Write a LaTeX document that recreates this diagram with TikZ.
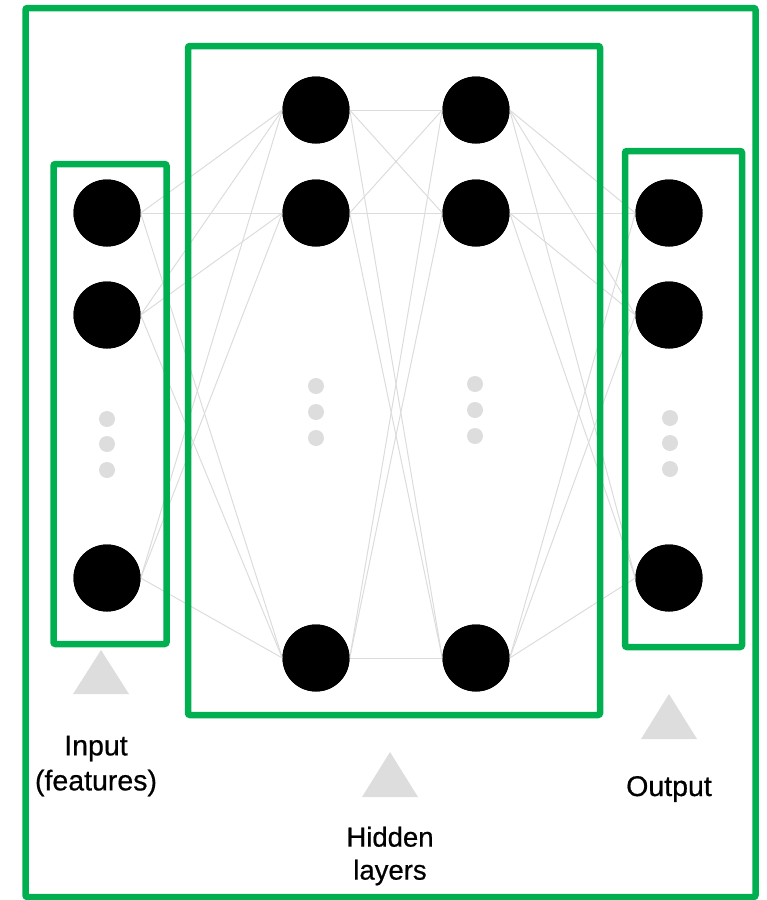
\documentclass[tikz,border=0pt]{standalone}
\usepackage{fontspec}
\setmainfont{Liberation Sans}
\newfontfamily\lblfont[FakeBold=0.6]{Liberation Sans}
\definecolor{frame}{HTML}{00B050}
\definecolor{wire}{HTML}{DCDCDC}
\definecolor{dotc}{HTML}{DDDDDD}
\begin{document}
\begin{tikzpicture}[x=1pt,y=-1pt,
  neuron/.style={circle,fill=black,minimum size=67pt,inner sep=0pt},
  gdot/.style={circle,fill=dotc,minimum size=16pt,inner sep=0pt},
  wirestyle/.style={draw=wire,line width=1pt},
  box/.style={draw=frame,line width=6.5pt,rounded corners=2pt},
  tri/.style={fill=dotc},
  lbl/.style={font=\lblfont\fontsize{28.5}{35}\selectfont,align=center,text=black}]
\useasboundingbox (0,0) rectangle (767,900);
% neurons
\node[neuron] (i1) at (107,213) {};
\node[neuron] (i2) at (107,315) {};
\node[neuron] (i3) at (107,578) {};
\node[neuron] (h1) at (316,110) {};
\node[neuron] (h2) at (316,213) {};
\node[neuron] (h3) at (316,658) {};
\node[neuron] (g1) at (476,110) {};
\node[neuron] (g2) at (476,213) {};
\node[neuron] (g3) at (476,658) {};
\node[neuron] (o1) at (669,213) {};
\node[neuron] (o2) at (669,315) {};
\node[neuron] (o3) at (669,578) {};
% connectors
\foreach \a in {i1,i2,i3}{\foreach \b in {h1,h2,h3}{\draw[wirestyle] (\a.east) -- (\b.west);}}
\foreach \a in {h1,h2,h3}{\foreach \b in {g1,g2,g3}{\draw[wirestyle] (\a.east) -- (\b.west);}}
\foreach \a in {g1,g2,g3}{\foreach \b in {o1,o2,o3}{\draw[wirestyle] (\a.east) -- (\b.west);}}
% boxes
\draw[box] (25.5,8) rectangle (755.5,897);
\draw[box] (188,46) rectangle (600,715);
\draw[box] (53.5,164) rectangle (166.5,644);
\draw[box] (625,151) rectangle (742,647);
% neurons redrawn on top of the frames
\foreach \p in {{107,213},{107,315},{107,578},{316,110},{316,213},{316,658},{476,110},{476,213},{476,658},{669,213},{669,315},{669,578}}{
  \fill[black] (\p) circle (33.5pt);}
% ellipsis dots
\node[gdot] (di1) at (107,419) {};
\node[gdot] (di2) at (107,444) {};
\node[gdot] (di3) at (107,470) {};
\node[gdot] (dh1) at (316,386) {};
\node[gdot] (dh2) at (316,412) {};
\node[gdot] (dh3) at (316,438) {};
\node[gdot] (dg1) at (475,384) {};
\node[gdot] (dg2) at (475,410) {};
\node[gdot] (dg3) at (475,436) {};
\node[gdot] (do1) at (670,418) {};
\node[gdot] (do2) at (670,443) {};
\node[gdot] (do3) at (670,469) {};
% triangles
\fill[tri] (101,650) -- (129,694) -- (73,694) -- cycle;
\fill[tri] (390,752) -- (418,797) -- (362,797) -- cycle;
\fill[tri] (669,694) -- (697,739) -- (641,739) -- cycle;
% labels
\node[lbl] (lin) at (96,766) {Input\\(features)};
\node[lbl,font=\lblfont\fontsize{27.5}{33}\selectfont] (lhid) at (390,856) {Hidden\\layers};
\node[lbl] (lout) at (669,789) {Output};
\end{tikzpicture}
\end{document}
